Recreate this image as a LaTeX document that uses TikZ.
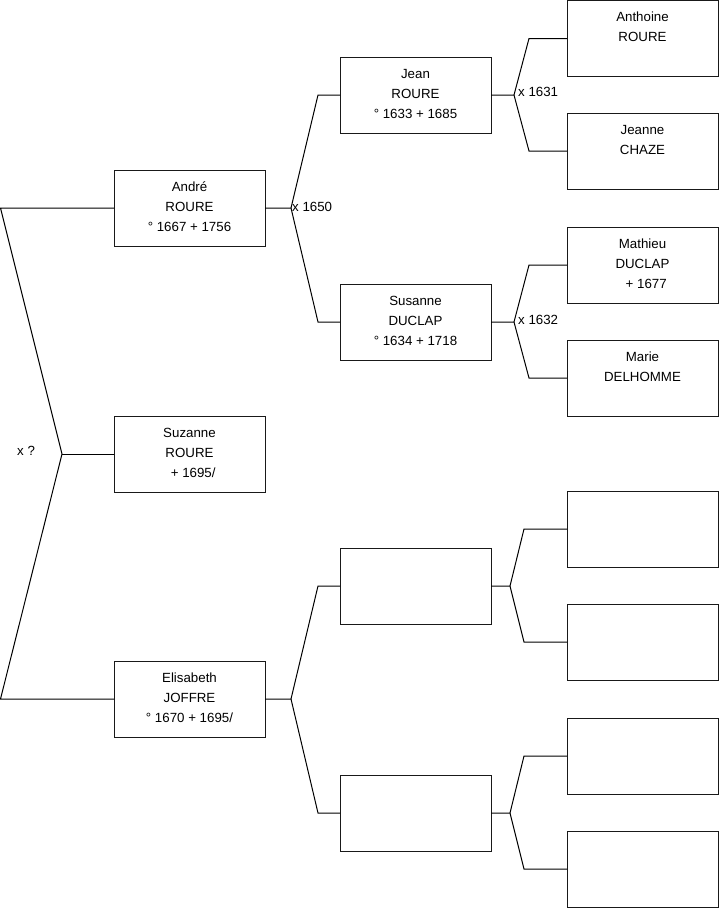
\documentclass[tikz,border=0pt]{standalone}
\usepackage{fontspec}
\setmainfont{Liberation Sans}
\newcommand\ptext[1]{\parbox[c][76pt][t]{151pt}{\centering\fontsize{13.3}{20}\selectfont\rule{0pt}{21pt}#1}}
\tikzset{
  person/.style={draw=black!90, line width=1pt, rectangle, inner sep=0pt, outer sep=0pt, anchor=north west},
  link/.style={draw=black, line width=1pt},
  mlabel/.style={anchor=west, inner sep=1pt, font=\fontsize{13.3}{15}\selectfont}
}
\begin{document}
\begin{tikzpicture}[x=1pt,y=-1pt]
\useasboundingbox (0,0) rectangle (719,908);
% column 1
\node[person] (andre) at (114,170) {\ptext{André\\ROURE\\° 1667 + 1756}};
\node[person] (suzanne) at (114,416) {\ptext{Suzanne\\ROURE\\\ \ + 1695/}};
\node[person] (elisabeth) at (114,661) {\ptext{Elisabeth\\JOFFRE\\° 1670 + 1695/}};
% column 2
\node[person] (jean) at (340,57) {\ptext{Jean\\ROURE\\° 1633 + 1685}};
\node[person] (susanne) at (340,284) {\ptext{Susanne\\DUCLAP\\° 1634 + 1718}};
\node[person] (e1) at (340,548) {\ptext{}};
\node[person] (e2) at (340,775) {\ptext{}};
% column 3
\node[person] (anthoine) at (567,0.5) {\ptext{Anthoine\\ROURE}};
\node[person] (jeanne) at (567,113) {\ptext{Jeanne\\CHAZE}};
\node[person] (mathieu) at (567,227) {\ptext{Mathieu\\DUCLAP\\\ \ + 1677}};
\node[person] (marie) at (567,340) {\ptext{Marie\\DELHOMME}};
\node[person] (f1) at (567,491) {\ptext{}};
\node[person] (f2) at (567,604) {\ptext{}};
\node[person] (f3) at (567,718) {\ptext{}};
\node[person] (f4) at (567,831) {\ptext{}};
% junction coordinates
\coordinate (lt) at (0.5,208);
\coordinate (lj) at (62,454);
\coordinate (lb) at (0.5,699);
\coordinate (aj) at (291,208);
\coordinate (at) at (318,95);
\coordinate (ab) at (318,322);
\coordinate (ej) at (291,699);
\coordinate (et) at (318,586);
\coordinate (eb) at (318,813);
\coordinate (jj) at (514,95);
\coordinate (jt) at (529,38.5);
\coordinate (jb) at (529,151);
\coordinate (sj) at (514,322);
\coordinate (st) at (529,265);
\coordinate (sb) at (529,378);
\coordinate (xj) at (510,586);
\coordinate (xt) at (524,529);
\coordinate (xb) at (524,642);
\coordinate (yj) at (510,813);
\coordinate (yt) at (524,756);
\coordinate (yb) at (524,869);
% connectors
\draw[link] (andre.west) -- (lt) -- (lj) -- (lb) -- (elisabeth.west);
\draw[link] (lj) -- (suzanne.west);
\draw[link] (andre.east) -- (aj) -- (at) -- (jean.west);
\draw[link] (aj) -- (ab) -- (susanne.west);
\draw[link] (elisabeth.east) -- (ej) -- (et) -- (e1.west);
\draw[link] (ej) -- (eb) -- (e2.west);
\draw[link] (jean.east) -- (jj) -- (jt) -- (anthoine.west);
\draw[link] (jj) -- (jb) -- (jeanne.west);
\draw[link] (susanne.east) -- (sj) -- (st) -- (mathieu.west);
\draw[link] (sj) -- (sb) -- (marie.west);
\draw[link] (e1.east) -- (xj) -- (xt) -- (f1.west);
\draw[link] (xj) -- (xb) -- (f2.west);
\draw[link] (e2.east) -- (yj) -- (yt) -- (f3.west);
\draw[link] (yj) -- (yb) -- (f4.west);
% marriage labels
\node[mlabel] (m0) at (16,451) {x ?};
\node[mlabel] (m1) at (291,207) {x 1650};
\node[mlabel] (m2) at (517,92) {x 1631};
\node[mlabel] (m3) at (517,320) {x 1632};
\end{tikzpicture}
\end{document}
